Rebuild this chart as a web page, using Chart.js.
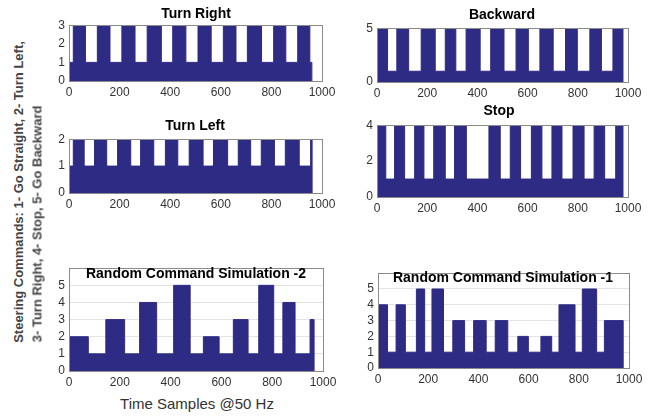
<!DOCTYPE html>
<html>
<head>
<meta charset="utf-8">
<script src="https://cdn.jsdelivr.net/npm/chart.js@4/dist/chart.umd.min.js"></script>
<style>
  body { margin: 0; background: #fff; width: 664px; height: 416px; position: relative; overflow: hidden; font-family: "Liberation Sans", Arial, sans-serif; }
  canvas { position: absolute; }
  .title { position: absolute; font-weight: bold; font-size: 14px; color: #000; transform: translate(-50%, -50%); white-space: nowrap; }
  .ylab { position: absolute; font-weight: bold; font-size: 13px; color: #444; white-space: nowrap; transform: translate(-50%, -50%) rotate(-90deg); }
  .xlab { position: absolute; font-size: 15px; color: #333; transform: translate(-50%, -50%); white-space: nowrap; }
</style>
</head>
<body>
<script>
// step signals: edges are sample indices where the command changes, levels are the command held until the next edge
const xTicks = [0, 200, 400, 600, 800, 1000];

const turnRightEdges = [0, 17, 65, 112, 162, 209, 261, 309, 365, 410, 462, 510, 562, 610, 660, 705, 761, 809, 857, 904, 952, 960];
const turnRightLevels = [1, 3, 1, 3, 1, 3, 1, 3, 1, 3, 1, 3, 1, 3, 1, 3, 1, 3, 1, 3, 1];
const turnRightTicks = [0, 1, 2, 3];

const backwardEdges = [0, 42, 79, 126, 176, 232, 272, 314, 355, 411, 453, 506, 554, 603, 649, 702, 751, 798, 848, 894, 940, 980];
const backwardLevels = [5, 1, 5, 1, 5, 1, 5, 1, 5, 1, 5, 1, 5, 1, 5, 1, 5, 1, 5, 1, 5];
const backwardTicks = [0, 5];

const turnLeftEdges = [0, 17, 60, 101, 149, 192, 244, 283, 335, 381, 430, 475, 530, 571, 627, 669, 718, 760, 812, 855, 910, 955, 961];
const turnLeftLevels = [1, 2, 1, 2, 1, 2, 1, 2, 1, 2, 1, 2, 1, 2, 1, 2, 1, 2, 1, 2, 1, 2];
const turnLeftTicks = [0, 1, 2];

const stopEdges = [0, 35, 70, 110, 150, 187, 226, 272, 309, 356, 446, 491, 531, 572, 615, 657, 697, 737, 781, 825, 865, 907, 951, 980];
const stopLevels = [4, 1, 4, 1, 4, 1, 4, 1, 4, 1, 4, 1, 4, 1, 4, 1, 4, 1, 4, 1, 4, 1, 4];
const stopTicks = [0, 2, 4];

const random2Edges = [0, 76, 145, 219, 278, 345, 412, 477, 529, 591, 647, 705, 747, 806, 842, 890, 949, 965];
const random2Levels = [2, 1, 3, 1, 4, 1, 5, 1, 2, 1, 3, 1, 5, 1, 4, 1, 3];

const random1Edges = [0, 38, 72, 109, 153, 186, 215, 261, 298, 345, 381, 431, 467, 517, 557, 599, 649, 692, 721, 785, 814, 871, 902, 977];
const random1Levels = [4, 1, 4, 1, 5, 1, 5, 1, 3, 1, 3, 1, 3, 1, 2, 1, 2, 1, 4, 1, 5, 1, 3];

const randomTicks = [0, 1, 2, 3, 4, 5];

const navy = '#2e2b84';

// box around the plot area, like matlab's "box on"
const boxPlugin = {
  id: 'box',
  afterDraw(chart) {
    const a = chart.chartArea, ctx = chart.ctx;
    ctx.save();
    ctx.strokeStyle = '#8a8a8a';
    ctx.lineWidth = 1;
    ctx.strokeRect(Math.round(a.left) + 0.5, Math.round(a.top) + 0.5, Math.round(a.right - a.left), Math.round(a.bottom - a.top));
    ctx.restore();
  }
};

function stepPoints(edges, levels) {
  const pts = levels.map((v, i) => ({ x: edges[i], y: v }));
  pts.push({ x: edges[edges.length - 1], y: 0 });
  return pts;
}

function panel(box, edges, levels, yTicks, yMax, grid) {
  const padL = 30, padT = 10, padR = 22, padB = 20;
  const c = document.createElement('canvas');
  const w = box.r - box.l + padL + padR, h = box.b - box.t + padT + padB;
  c.width = w; c.height = h;
  c.style.left = (box.l - padL) + 'px';
  c.style.top = (box.t - padT) + 'px';
  c.style.width = w + 'px'; c.style.height = h + 'px';
  document.body.appendChild(c);

  new Chart(c.getContext('2d'), {
    type: 'line',
    data: {
      datasets: [{
        data: stepPoints(edges, levels),
        stepped: true,
        fill: 'origin',
        backgroundColor: navy,
        borderColor: navy,
        borderWidth: 1,
        pointRadius: 0
      }]
    },
    options: {
      responsive: false,
      animation: false,
      devicePixelRatio: 1,
      layout: { padding: { left: 0, top: padT, right: padR, bottom: 0 } },
      plugins: { legend: { display: false }, tooltip: { enabled: false } },
      scales: {
        x: {
          type: 'linear', min: 0, max: 1000,
          afterBuildTicks: s => { s.ticks = xTicks.map(v => ({ value: v })); },
          afterFit: s => { s.height = padB; },
          grid: { display: false, drawTicks: false },
          border: { display: false },
          ticks: { color: '#333', padding: 4, maxRotation: 0, callback: v => String(v), font: { family: 'Liberation Sans', size: 12 } }
        },
        y: {
          min: 0, max: yMax,
          afterBuildTicks: s => { s.ticks = yTicks.map(v => ({ value: v })); },
          afterFit: s => { s.width = padL; },
          grid: { display: grid, color: '#e4e4e4', drawTicks: false },
          border: { display: false },
          ticks: { color: '#333', padding: 4, callback: v => String(v), font: { family: 'Liberation Sans', size: 12 } }
        }
      }
    },
    plugins: [boxPlugin]
  });
}

function label(cls, text, x, y) {
  const d = document.createElement('div');
  d.className = cls;
  d.textContent = text;
  d.style.left = x + 'px';
  d.style.top = y + 'px';
  document.body.appendChild(d);
}

panel({ l: 69, r: 322, t: 24, b: 81 }, turnRightEdges, turnRightLevels, turnRightTicks, 3, false);
panel({ l: 377, r: 628, t: 27, b: 82 }, backwardEdges, backwardLevels, backwardTicks, 5, false);
panel({ l: 69, r: 322, t: 138, b: 193 }, turnLeftEdges, turnLeftLevels, turnLeftTicks, 2, false);
panel({ l: 377, r: 628, t: 124, b: 197 }, stopEdges, stopLevels, stopTicks, 4, false);
panel({ l: 69, r: 323, t: 267, b: 371 }, random2Edges, random2Levels, randomTicks, 6, true);
panel({ l: 378, r: 629, t: 272, b: 368 }, random1Edges, random1Levels, randomTicks, 6, true);

label('title', 'Turn Right', 196, 13);
label('title', 'Backward', 502, 14);
label('title', 'Turn Left', 195, 125);
label('title', 'Stop', 499, 110);
label('title', 'Random Command Simulation -2', 196, 273);
label('title', 'Random Command Simulation -1', 503, 277);

label('ylab', 'Steering Commands: 1- Go Straight, 2- Turn Left,', 18, 192);
label('ylab', '3- Turn Right, 4- Stop, 5- Go Backward', 37, 224);
label('xlab', 'Time Samples @50 Hz', 197, 403);
</script>
</body>
</html>
